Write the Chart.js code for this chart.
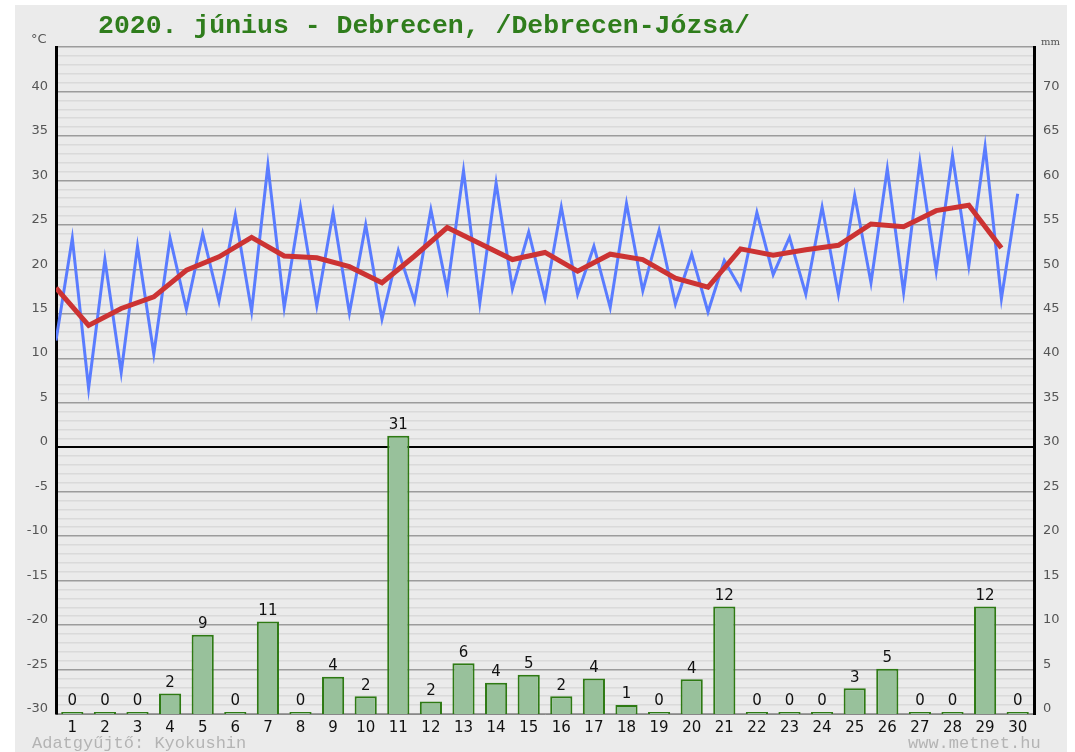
<!DOCTYPE html>
<html>
<head>
<meta charset="utf-8">
<script src="https://cdn.jsdelivr.net/npm/chart.js@4/dist/chart.umd.min.js"></script>
<style>
body { margin: 0; background: #fff; width: 1075px; height: 752px; overflow: hidden; position: relative; }
#bg { position: absolute; left: 15px; top: 5px; width: 1052px; height: 747px; background: #ebebeb; }
#wrap { position: absolute; left: 0; top: 0; width: 1075px; height: 752px; }
.txt { position: absolute; white-space: nowrap; }
#title { left: 98px; top: 11px; font: bold 26.5px "Liberation Mono", monospace; color: #2f7d1c; }
#degc { left: 31px; top: 31px; font: 13px "DejaVu Sans", sans-serif; color: #555; }
#mm { left: 1041px; top: 36px; font: 10px "DejaVu Serif", serif; color: #555; }
#src { left: 32px; top: 734px; font: 17px "Liberation Mono", monospace; color: #b4b4b4; }
#web { left: 908px; top: 734px; font: 17px "Liberation Mono", monospace; color: #b4b4b4; }
</style>
</head>
<body>
<div id="bg"></div>
<div id="wrap"><canvas id="meteo" width="1075" height="752"></canvas></div>
<div class="txt" id="title">2020. június - Debrecen, /Debrecen-Józsa/</div>
<div class="txt" id="degc">°C</div>
<div class="txt" id="mm">mm</div>
<div class="txt" id="src">Adatgyűjtő: Kyokushin</div>
<div class="txt" id="web">www.metnet.hu</div>
<script>
// napok
var days = [];
for (var i = 1; i <= 30; i++) days.push(i);

// hőmérséklet (°C)
var tMin = [12.0, 6.6, 8.4, 10.5, 15.5, 16.4, 15.3, 15.7, 15.9, 15.1, 14.4, 16.4, 17.7, 16.2, 17.8,
            16.7, 17.2, 15.7, 17.6, 16.1, 15.2, 17.8, 19.4, 17.2, 17.2, 18.5, 17.4, 19.8, 20.4, 16.7];
var tMax = [23.5, 21.1, 22.6, 23.5, 24.0, 26.1, 31.7, 27.0, 26.4, 25.0, 22.1, 26.7, 31.1, 29.7, 24.2,
            27.0, 22.6, 27.4, 24.4, 21.7, 21.0, 26.4, 23.6, 27.0, 28.3, 31.3, 32.1, 32.8, 33.8, 28.5];
var tMean = [17.9, 13.7, 15.6, 16.9, 19.9, 21.4, 23.6, 21.5, 21.3, 20.3, 18.5, 21.5, 24.7, 22.9, 21.1,
             21.9, 19.8, 21.7, 21.1, 19.0, 18.0, 22.3, 21.6, 22.2, 22.7, 25.1, 24.8, 26.6, 27.2, 22.4];

// csapadék (mm) + a kiírt értékek
var precip = [0, 0, 0, 2.3, 8.9, 0, 10.4, 0, 4.2, 2.0, 31.3, 1.4, 5.7, 3.5, 4.4,
              2.0, 4.0, 1.0, 0, 3.9, 12.1, 0, 0, 0, 2.9, 5.1, 0, 0, 12.1, 0];
var precipLabels = [0, 0, 0, 2, 9, 0, 11, 0, 4, 2, 31, 2, 6, 4, 5,
                    2, 4, 1, 0, 4, 12, 0, 0, 0, 3, 5, 0, 0, 12, 0];

// min a nap elején, max a nap közepén -> cikcakk
var zigzag = [];
days.forEach(function (d, i) {
    zigzag.push({ x: d - 1, y: tMin[i] });
    zigzag.push({ x: d - 0.5, y: tMax[i] });
});
var meanPts = days.map(function (d, i) { return { x: d - 1, y: tMean[i] }; });
var barPts = days.map(function (d, i) { return { x: d - 0.5, y: precip[i] }; });

var barLabels = { // szám a oszlopok fölé
    id: 'barLabels',
    afterDatasetsDraw: function (chart) {
        var ctx = chart.ctx;
        var meta = chart.getDatasetMeta(2);
        ctx.save();
        ctx.font = '15px "DejaVu Sans", sans-serif';
        ctx.fillStyle = '#111';
        ctx.textAlign = 'center';
        ctx.textBaseline = 'bottom';
        meta.data.forEach(function (bar, i) {
            ctx.fillText(String(precipLabels[i]), bar.x, bar.y - 3);
        });
        ctx.restore();
    }
};

// a tengelyfeliratok kicsit a vonal fölött vannak -> üres második sor
function upLabel(v) { return [String(v), '']; }

new Chart(document.getElementById('meteo'), {
    type: 'line',
    data: {
        datasets: [{
            label: 'átlag',
            data: meanPts,
            borderColor: '#cc3333',
            borderWidth: 5,
            pointRadius: 0,
            tension: 0,
            yAxisID: 'y'
        }, {
            label: 'min/max',
            data: zigzag,
            borderColor: '#5a7cff',
            borderWidth: 3,
            pointRadius: 0,
            tension: 0,
            yAxisID: 'y'
        }, {
            type: 'bar',
            label: 'csapadék',
            data: barPts,
            backgroundColor: '#98c19b',
            borderColor: '#2e7a14',
            borderWidth: 2,
            minBarLength: 2,
            barPercentage: 0.85,
            categoryPercentage: 0.8,
            yAxisID: 'y2'
        }]
    },
    options: {
        responsive: false,
        animation: false,
        events: [],
        layout: { padding: { top: 47, left: 0, right: 0, bottom: 0 } },
        plugins: { legend: { display: false }, tooltip: { enabled: false } },
        scales: {
            x: {
                type: 'linear',
                min: 0,
                max: 30,
                offset: false,
                afterBuildTicks: function (scale) {
                    scale.ticks = days.map(function (d) { return { value: d - 0.5 }; });
                },
                afterFit: function (scale) { scale.height = 38; },
                grid: { display: false, offset: false },
                border: { color: '#888', width: 1 },
                ticks: {
                    autoSkip: false,
                    maxRotation: 0,
                    padding: -3,
                    color: '#111',
                    font: { family: 'DejaVu Sans', size: 15 },
                    callback: function (v) { return Math.round(v + 0.5); }
                }
            },
            y: {
                position: 'left',
                min: -30,
                max: 45,
                afterFit: function (scale) { scale.width = 56; },
                border: { color: '#000', width: 3 },
                grid: {
                    drawTicks: false,
                    color: function (c) {
                        var v = c.tick.value;
                        if (v === 0) return '#000';
                        if (v % 5 === 0) return '#9c9c9c';
                        return '#dadada';
                    },
                    lineWidth: function (c) { return c.tick.value === 0 ? 2 : 1.5; }
                },
                ticks: {
                    stepSize: 1,
                    autoSkip: false,
                    padding: 8,
                    color: '#555',
                    font: { family: 'DejaVu Sans', size: 13, lineHeight: 0.8 },
                    callback: function (v) { return (v % 5 === 0 && v < 45) ? upLabel(v) : ''; }
                }
            },
            y2: {
                position: 'right',
                min: 0,
                max: 75,
                afterFit: function (scale) { scale.width = 41; },
                border: { color: '#000', width: 3 },
                grid: { display: false, drawTicks: false },
                ticks: {
                    stepSize: 5,
                    autoSkip: false,
                    padding: 9,
                    color: '#555',
                    font: { family: 'DejaVu Sans', size: 13, lineHeight: 0.8 },
                    callback: function (v) { return v < 75 ? upLabel(v) : ''; }
                }
            }
        }
    },
    plugins: [barLabels]
});
</script>
</body>
</html>
